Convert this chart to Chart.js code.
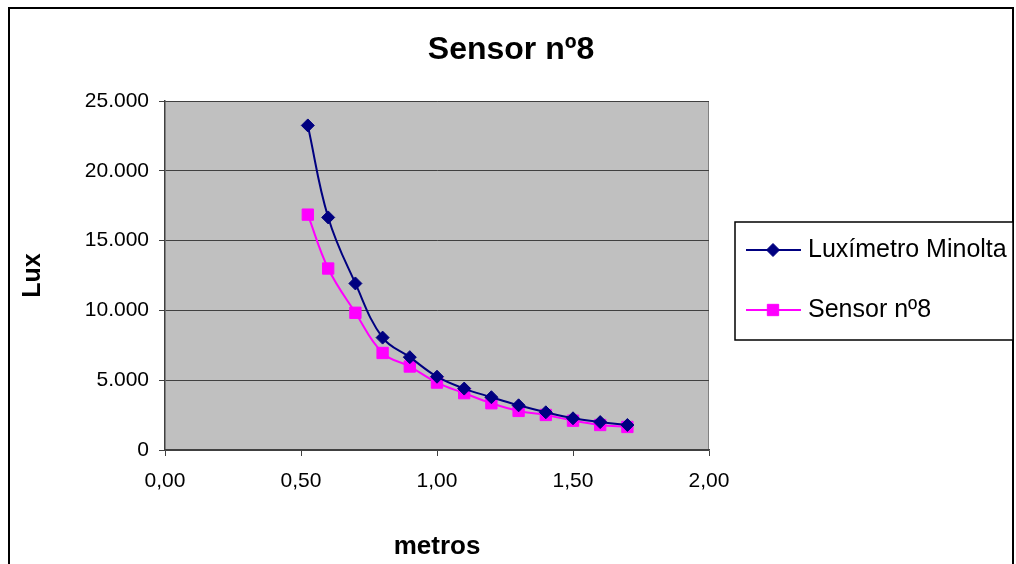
<!DOCTYPE html>
<html>
<head>
<meta charset="utf-8">
<script src="https://cdn.jsdelivr.net/npm/chart.js@4/dist/chart.umd.min.js"></script>
<style>
  html, body { margin: 0; padding: 0; background: #fff; }
  #wrap { width: 1016px; height: 564px; }
</style>
</head>
<body>
<div id="wrap"><canvas id="sensorChart" width="1016" height="564"></canvas></div>
<script>
const metros = [0.525, 0.6, 0.7, 0.8, 0.9, 1.0, 1.1, 1.2, 1.3, 1.4, 1.5, 1.6, 1.7];
const luximetro = [23250, 16660, 11930, 8050, 6650, 5250, 4400, 3780, 3200, 2700, 2270, 2000, 1790];
const sensor8 = [16860, 13000, 9830, 6950, 5980, 4830, 4070, 3350, 2800, 2510, 2100, 1790, 1650];
const seriesNames = ['Luxímetro Minolta', 'Sensor nº8'];
const chartTitle = 'Sensor nº8';
const xTicks = [0, 0.5, 1.0, 1.5, 2.0];

const fontFamily = "'Liberation Sans', Arial, sans-serif";

function toPoints(xs, ys) {
    return xs.map((x, i) => ({ x: x, y: ys[i] }));
}

// white page, outer frame, title and grey plot background
const backgroundPlugin = {
    id: 'background',
    beforeDraw(chart) {
        const ctx = chart.ctx;
        const area = chart.chartArea;
        ctx.save();
        ctx.fillStyle = '#ffffff';
        ctx.fillRect(0, 0, chart.width, chart.height);
        ctx.fillStyle = '#c0c0c0';
        ctx.fillRect(area.left, area.top, area.right - area.left, area.bottom - area.top);
        ctx.strokeStyle = '#808080';
        ctx.lineWidth = 1;
        ctx.beginPath();
        ctx.moveTo(area.left, area.top + 0.5);
        ctx.lineTo(area.right - 0.5, area.top + 0.5);
        ctx.lineTo(area.right - 0.5, area.bottom);
        ctx.stroke();

        ctx.fillStyle = '#000000';
        ctx.font = 'bold 32px ' + fontFamily;
        ctx.textAlign = 'center';
        ctx.textBaseline = 'middle';
        ctx.fillText(chartTitle, 511, 50);
        ctx.restore();
    },
    afterDraw(chart) {
        const ctx = chart.ctx;
        ctx.save();
        ctx.strokeStyle = '#000000';
        ctx.lineWidth = 2;
        ctx.strokeRect(9, 8, 1004, 600);
        ctx.restore();
    }
};

// Excel style legend box on the right
const boxLegendPlugin = {
    id: 'boxLegend',
    afterDraw(chart) {
        const ctx = chart.ctx;
        const left = 735, top = 222, right = 1013, bottom = 340;
        ctx.save();
        ctx.fillStyle = '#ffffff';
        ctx.fillRect(left, top, right - left, bottom - top);
        ctx.strokeStyle = '#000000';
        ctx.lineWidth = 1.5;
        ctx.strokeRect(left, top, right - left, bottom - top);
        ctx.beginPath();
        ctx.rect(left, top, right - left - 2, bottom - top);
        ctx.clip();
        chart.data.datasets.forEach((ds, i) => {
            const y = 250 + i * 60;
            ctx.strokeStyle = ds.borderColor;
            ctx.lineWidth = 2;
            ctx.beginPath();
            ctx.moveTo(746, y);
            ctx.lineTo(801, y);
            ctx.stroke();
            ctx.fillStyle = ds.pointBackgroundColor;
            ctx.strokeStyle = ds.pointBorderColor;
            ctx.lineWidth = 1;
            Chart.helpers.drawPoint(ctx, {
                pointStyle: ds.pointStyle,
                radius: ds.pointRadius,
                borderWidth: 1
            }, 773, y);
            ctx.fillStyle = '#000000';
            ctx.font = '25px ' + fontFamily;
            ctx.textBaseline = 'middle';
            ctx.textAlign = 'left';
            ctx.fillText(ds.label, 808, y);
        });
        ctx.restore();
    }
};

const ctx = document.getElementById('sensorChart').getContext('2d');
const sensorChart = new Chart(ctx, {
    type: 'line',
    data: {
        datasets: [{
            label: seriesNames[0],
            data: toPoints(metros, luximetro),
            borderColor: '#000080',
            backgroundColor: '#000080',
            pointBackgroundColor: '#000080',
            pointBorderColor: '#000080',
            pointStyle: 'rectRot',
            pointRadius: 6.5,
            pointBorderWidth: 1,
            borderWidth: 2,
            tension: 0.4,
            fill: false
        }, {
            label: seriesNames[1],
            data: toPoints(metros, sensor8),
            borderColor: '#ff00ff',
            backgroundColor: '#ff00ff',
            pointBackgroundColor: '#ff00ff',
            pointBorderColor: '#ff00ff',
            pointStyle: 'rect',
            pointRadius: 8,
            pointBorderWidth: 1,
            borderWidth: 2,
            tension: 0.4,
            fill: false
        }]
    },
    options: {
        responsive: false,
        maintainAspectRatio: false,
        animation: false,
        layout: {
            padding: { left: 0, right: 307, top: 101, bottom: 0 }
        },
        plugins: {
            legend: { display: false },
            tooltip: { enabled: false },
            title: { display: false }
        },
        scales: {
            x: {
                type: 'linear',
                min: 0,
                max: 2,
                afterBuildTicks(scale) {
                    scale.ticks = xTicks.map(v => ({ value: v }));
                },
                afterFit(scale) {
                    scale.height = 114;
                },
                grid: {
                    drawOnChartArea: false,
                    drawTicks: true,
                    tickLength: 6,
                    tickColor: '#404040'
                },
                border: { color: '#404040', width: 1.5 },
                ticks: {
                    color: '#000000',
                    padding: 13,
                    maxRotation: 0,
                    font: { family: fontFamily, size: 21 },
                    callback: v => v.toFixed(2).replace('.', ',')
                },
                title: {
                    display: true,
                    text: 'metros',
                    color: '#000000',
                    font: { family: fontFamily, size: 26, weight: 'bold' },
                    padding: { top: 0, bottom: 2 }
                }
            },
            y: {
                min: 0,
                max: 25000,
                afterFit(scale) {
                    scale.width = 165;
                },
                grid: {
                    color: '#404040',
                    lineWidth: 1,
                    drawTicks: true,
                    tickLength: 6,
                    tickColor: '#404040'
                },
                border: { color: '#404040', width: 1.5 },
                ticks: {
                    stepSize: 5000,
                    color: '#000000',
                    padding: 10,
                    font: { family: fontFamily, size: 21 },
                    callback: v => v.toLocaleString('de-DE')
                },
                title: {
                    display: true,
                    text: 'Lux',
                    color: '#000000',
                    font: { family: fontFamily, size: 25, weight: 'bold' },
                    padding: { top: 18, bottom: 0 }
                }
            }
        }
    },
    plugins: [backgroundPlugin, boxLegendPlugin]
});
</script>
</body>
</html>
